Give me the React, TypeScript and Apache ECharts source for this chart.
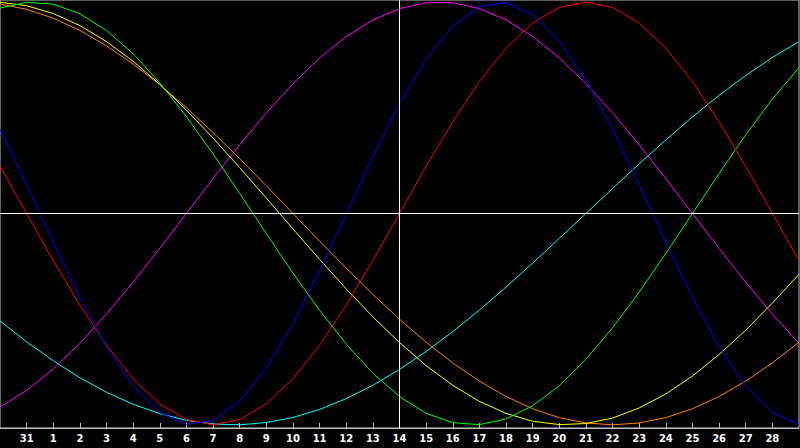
import React, { useEffect, useRef } from "react";
import * as echarts from "echarts";

const days = [
  "30", "31", "1", "2", "3", "4", "5", "6", "7", "8", "9", "10", "11", "12", "13",
  "14", "15", "16", "17", "18", "19", "20", "21", "22", "23", "24", "25", "26", "27", "28", "29",
];

const physical = [
  0.398, 0.136, -0.136, -0.398, -0.631, -0.817, -0.942, -0.998, -0.979, -0.888, -0.731,
  -0.52, -0.27, 0, 0.27, 0.52, 0.731, 0.888, 0.979, 0.998, 0.942, 0.817, 0.631, 0.398,
  0.136, -0.136, -0.398, -0.631, -0.817, -0.942, -0.998,
];

const emotional = [
  0.223, 0, -0.223, -0.434, -0.624, -0.782, -0.901, -0.975, -1, -0.975, -0.901, -0.782,
  -0.624, -0.434, -0.223, 0, 0.223, 0.434, 0.624, 0.782, 0.901, 0.975, 1, 0.975, 0.901,
  0.782, 0.624, 0.434, 0.223, 0, -0.223,
];

const intellectual = [
  0.972, 0.999, 0.99, 0.945, 0.866, 0.756, 0.618, 0.458, 0.282, 0.095, -0.095, -0.282,
  -0.458, -0.618, -0.756, -0.866, -0.945, -0.99, -0.999, -0.972, -0.91, -0.815, -0.69,
  -0.541, -0.372, -0.189, 0, 0.189, 0.372, 0.541, 0.69,
];

const intuitive = [
  -0.916, -0.837, -0.736, -0.614, -0.476, -0.325, -0.165, 0, 0.165, 0.325, 0.476, 0.614,
  0.736, 0.837, 0.916, 0.969, 0.997, 0.997, 0.969, 0.916, 0.837, 0.736, 0.614, 0.476,
  0.325, 0.165, 0, -0.165, -0.325, -0.476, -0.614,
];

const aesthetic = [
  0.999, 0.983, 0.946, 0.889, 0.813, 0.72, 0.611, 0.489, 0.357, 0.217, 0.073, -0.073,
  -0.217, -0.357, -0.489, -0.611, -0.72, -0.813, -0.889, -0.946, -0.983, -0.999, -0.994,
  -0.968, -0.92, -0.854, -0.769, -0.667, -0.552, -0.424, -0.288,
];

const awareness = [
  0.991, 0.966, 0.924, 0.866, 0.793, 0.707, 0.609, 0.5, 0.383, 0.259, 0.131, 0, -0.131,
  -0.259, -0.383, -0.5, -0.609, -0.707, -0.793, -0.866, -0.924, -0.966, -0.991, -1,
  -0.991, -0.966, -0.924, -0.866, -0.793, -0.707, -0.609,
];

const spiritual = [
  -0.509, -0.607, -0.697, -0.777, -0.846, -0.903, -0.947, -0.979, -0.996, -1, -0.989,
  -0.965, -0.927, -0.876, -0.813, -0.738, -0.653, -0.559, -0.457, -0.348, -0.235, -0.118,
  0, 0.118, 0.235, 0.348, 0.457, 0.559, 0.653, 0.738, 0.813,
];

const todayLabel = "14";

const seriesDefs = [
  { name: "Spiritual", data: spiritual, color: "#00ffff" },
  { name: "Intuitive", data: intuitive, color: "#ff00ff" },
  { name: "Awareness", data: awareness, color: "#ff8000" },
  { name: "Aesthetic", data: aesthetic, color: "#ffff00" },
  { name: "Intellectual", data: intellectual, color: "#00ff00" },
  { name: "Emotional", data: emotional, color: "#ff0000" },
  { name: "Physical", data: physical, color: "#0000ff" },
];

export default function App() {
  const ref = useRef<HTMLDivElement>(null);

  useEffect(() => {
    if (!ref.current) return;
    const chart = echarts.init(ref.current, undefined, { renderer: "svg" });
    const lastIdx = days.length - 1;
    const showIdx = (idx: number) => idx > 0 && idx < lastIdx;
    chart.setOption({
      animation: false,
      backgroundColor: "#000000",
      grid: {
        left: 0,
        right: 1,
        top: 0,
        bottom: 20,
        show: true,
        borderColor: "#c0c0c0",
        borderWidth: 1,
        backgroundColor: "transparent",
      },
      xAxis: {
        type: "category",
        data: days,
        boundaryGap: false,
        position: "bottom",
        axisLine: { show: true, onZero: false, lineStyle: { color: "#c0c0c0", width: 1 } },
        axisTick: {
          show: true,
          inside: true,
          length: 5,
          interval: (idx: number) => showIdx(idx),
          lineStyle: { color: "#c0c0c0", width: 1 },
        },
        axisLabel: {
          show: true,
          interval: (idx: number) => showIdx(idx),
          color: "#ffffff",
          fontFamily: "DejaVu Sans",
          fontWeight: "bold",
          fontSize: 10,
          margin: 5,
        },
        splitLine: { show: false },
      },
      yAxis: {
        type: "value",
        min: -1.015,
        max: 1.01,
        show: false,
        splitLine: { show: false },
      },
      series: [
        {
          name: "guides",
          type: "line",
          data: [],
          silent: true,
          markLine: {
            silent: true,
            symbol: ["none", "none"],
            label: { show: false },
            lineStyle: { color: "#ffffff", width: 1, type: "solid" },
            data: [{ xAxis: todayLabel }, { yAxis: 0 }],
          },
        },
        ...seriesDefs.map((s) => ({
          name: s.name,
          type: "line",
          data: s.data,
          showSymbol: false,
          symbol: "none",
          smooth: false,
          lineStyle: { color: s.color, width: 1 },
          itemStyle: { color: s.color },
          emphasis: { disabled: true },
        })),
      ],
    });
    return () => chart.dispose();
  }, []);

  return (
    <div
      ref={ref}
      style={{ position: "fixed", left: 0, top: 0, width: 800, height: 448, background: "#000" }}
    />
  );
}
